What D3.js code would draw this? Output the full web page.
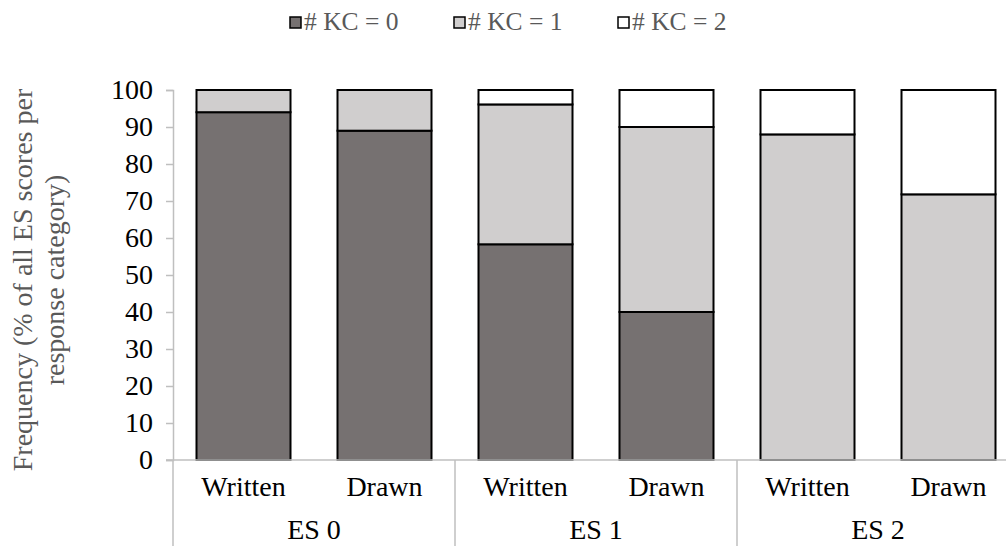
<!DOCTYPE html>
<html>
<head>
<meta charset="utf-8">
<script src="https://cdn.jsdelivr.net/npm/d3@7"></script>
</head>
<body style="margin:0">
<script>
// data
const groups = ['ES 0', 'ES 1', 'ES 2'];
const responses = ['Written', 'Drawn'];
const seriesKeys = ['kc0', 'kc1', 'kc2'];
const seriesLabels = ['# KC = 0', '# KC = 1', '# KC = 2'];
const kc0 = [94, 89, 58.3, 40, 0, 0];
const kc1 = [6, 11, 37.8, 50, 88, 71.8];
const kc2 = [0, 0, 3.9, 10, 12, 28.2];
const yTicks = [0, 10, 20, 30, 40, 50, 60, 70, 80, 90, 100];

const rows = [];
groups.forEach((g, gi) => {
    responses.forEach((r, ri) => {
        const i = gi * responses.length + ri;
        rows.push({ group: g, response: r, kc0: kc0[i], kc1: kc1[i], kc2: kc2[i] });
    });
});

const width = 1006, height = 546;
const margin = { top: 90, left: 173, bottom: 86 };
const plotRight = 1019; // the last group runs past the picture edge
const fills = ['#767171', '#d0cece', '#ffffff'];
const font = 'Liberation Serif';
const fontSize = 28;

const svg = d3.select('body').append('svg')
    .attr('width', width)
    .attr('height', height);

const x0 = d3.scaleBand()
    .domain(groups)
    .range([margin.left, plotRight]);

const x1 = d3.scaleBand()
    .domain(responses)
    .range([0, x0.bandwidth()])
    .paddingInner(1 / 3)
    .paddingOuter(1 / 6);

const y = d3.scaleLinear()
    .domain([0, 100])
    .range([height - margin.bottom, margin.top]);

const stacked = d3.stack().keys(seriesKeys)(rows);

// bars
svg.selectAll('g.layer')
    .data(stacked)
    .join('g')
    .attr('class', 'layer')
    .attr('fill', (d, i) => fills[i])
    .selectAll('rect')
    .data(d => d.filter(s => s[1] - s[0] > 0))
    .join('rect')
    .attr('x', d => x0(d.data.group) + x1(d.data.response))
    .attr('width', x1.bandwidth())
    .attr('y', d => y(d[1]))
    .attr('height', d => y(d[0]) - y(d[1]))
    .attr('stroke', '#000')
    .attr('stroke-width', 2);

// y axis
const yAxis = svg.append('g')
    .attr('transform', `translate(${margin.left},0)`)
    .call(d3.axisLeft(y).tickValues(yTicks).tickSize(7).tickPadding(13));
yAxis.attr('font-family', null).attr('font-size', null);
yAxis.select('.domain').attr('stroke', '#bfbfbf').attr('stroke-width', 1.5);
yAxis.selectAll('.tick line').attr('stroke', '#bfbfbf').attr('stroke-width', 1.5);
yAxis.selectAll('.tick text')
    .attr('fill', '#000')
    .attr('font-family', font)
    .attr('font-size', fontSize);

// x axis: baseline + group separators
const y0 = y(0);
svg.append('line')
    .attr('x1', margin.left - 7).attr('x2', width)
    .attr('y1', y0).attr('y2', y0)
    .attr('stroke', '#bfbfbf').attr('stroke-width', 1.5);

const seps = groups.map(g => x0(g)).concat([x0.range()[1]]);
svg.selectAll('line.sep')
    .data(seps)
    .join('line')
    .attr('class', 'sep')
    .attr('x1', d => d).attr('x2', d => d)
    .attr('y1', y0).attr('y2', height)
    .attr('stroke', '#bfbfbf').attr('stroke-width', 1.5);

svg.selectAll('text.resp')
    .data(rows)
    .join('text')
    .attr('class', 'resp')
    .attr('x', d => x0(d.group) + x1(d.response) + x1.bandwidth() / 2)
    .attr('y', y0 + 36)
    .attr('text-anchor', 'middle')
    .attr('font-family', font)
    .attr('font-size', fontSize)
    .text(d => d.response);

svg.selectAll('text.grp')
    .data(groups)
    .join('text')
    .attr('class', 'grp')
    .attr('x', d => x0(d) + x0.bandwidth() / 2)
    .attr('y', y0 + 79)
    .attr('text-anchor', 'middle')
    .attr('font-family', font)
    .attr('font-size', fontSize)
    .text(d => d);

// y title
const title = svg.append('text')
    .attr('transform', 'translate(32,280) rotate(-90)')
    .attr('text-anchor', 'middle')
    .attr('fill', '#595959')
    .attr('font-family', font)
    .attr('font-size', fontSize);
title.append('tspan').attr('x', 0).attr('dy', 0).text('Frequency (% of all ES scores per');
title.append('tspan').attr('x', 0).attr('dy', 32).text('response category)');

// legend
const legendX = [290, 454, 618];
const lg = svg.selectAll('g.legend')
    .data(seriesLabels)
    .join('g')
    .attr('class', 'legend')
    .attr('transform', (d, i) => `translate(${legendX[i]},17)`);
lg.append('rect')
    .attr('width', 11).attr('height', 11)
    .attr('fill', (d, i) => fills[i])
    .attr('stroke', '#000').attr('stroke-width', 1.5);
lg.append('text')
    .attr('x', 14).attr('y', 13)
    .attr('fill', '#595959')
    .attr('font-family', font)
    .attr('font-size', 25.5)
    .text(d => d);
</script>
</body>
</html>
